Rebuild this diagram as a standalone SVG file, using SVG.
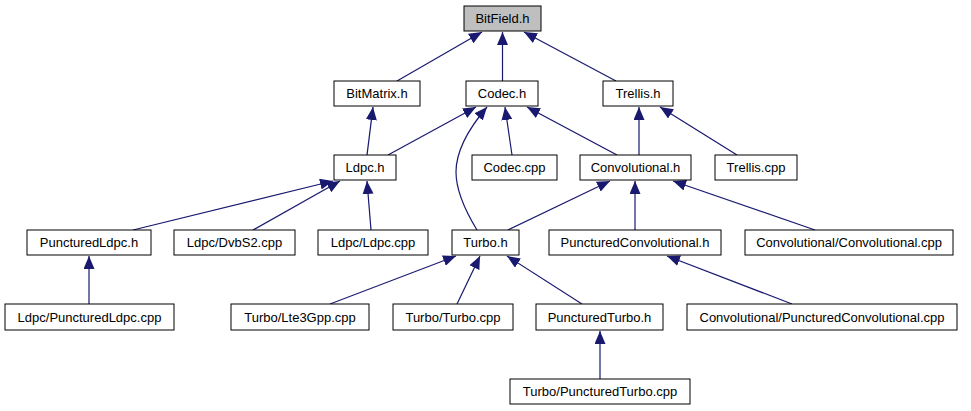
<svg xmlns="http://www.w3.org/2000/svg" width="971" height="411" viewBox="0 0 971 411">
<defs>
<style>
.n rect{fill:#fff;stroke:#000;stroke-width:1}
.n text{font-family:"Liberation Sans",Arial,sans-serif;font-size:13px;text-anchor:middle;fill:#000}
.e path{fill:none;stroke:#191970;stroke-width:1.2;marker-end:url(#ah)}
</style>
<marker id="ah" markerUnits="userSpaceOnUse" markerWidth="13" markerHeight="11" refX="13" refY="5.5" orient="auto" viewBox="0 0 13 11">
<path d="M0,0 L13,5.5 L0,11 z" fill="#191970"/>
</marker>
</defs>
<rect width="971" height="411" fill="#fff"/>
<g class="e">
<path d="M397,81 L482,32"/>
<path d="M502.5,81 L502.5,32"/>
<path d="M616,81 L524,32"/>
<path d="M367,155 L373,107"/>
<path d="M388,155 L476,107"/>
<path d="M477,230 C466,212 456,190 456,172 C456,150 470,127 487,107"/>
<path d="M512,155 L505,107"/>
<path d="M617,155 L527,107"/>
<path d="M639,155 L639,107"/>
<path d="M737,155 L660,107"/>
<path d="M133,230 L333,181"/>
<path d="M253,230 L340,181"/>
<path d="M371,230 L367,181"/>
<path d="M508,230 L610,181"/>
<path d="M635,230 L635,181"/>
<path d="M815,230 L673,181"/>
<path d="M89,304 L89,256"/>
<path d="M330,304 L456,256"/>
<path d="M457,304 L480,256"/>
<path d="M582,304 L507,256"/>
<path d="M792,304 L667,256"/>
<path d="M600,379 L600,331"/>
</g>
<g id="n_bitfield" class="n"><rect x="464" y="6" width="77" height="25" style="fill:#bfbfbf"/><text x="502.5" y="23">BitField.h</text></g>
<g id="n_bitmatrix" class="n"><rect x="334" y="81" width="86" height="25"/><text x="377" y="98">BitMatrix.h</text></g>
<g id="n_codec_h" class="n"><rect x="466" y="81" width="72" height="25"/><text x="502" y="98">Codec.h</text></g>
<g id="n_trellis_h" class="n"><rect x="603" y="81" width="70" height="25"/><text x="638" y="98">Trellis.h</text></g>
<g id="n_ldpc_h" class="n"><rect x="334" y="155" width="62" height="25"/><text x="365" y="172">Ldpc.h</text></g>
<g id="n_codec_cpp" class="n"><rect x="472" y="155" width="85" height="25"/><text x="514.5" y="172">Codec.cpp</text></g>
<g id="n_conv_h" class="n"><rect x="580" y="155" width="111" height="25"/><text x="635.5" y="172">Convolutional.h</text></g>
<g id="n_trellis_cpp" class="n"><rect x="715" y="155" width="82" height="25"/><text x="756" y="172">Trellis.cpp</text></g>
<g id="n_puncldpc_h" class="n"><rect x="27" y="230" width="124" height="25"/><text x="89" y="247">PuncturedLdpc.h</text></g>
<g id="n_dvbs2" class="n"><rect x="174" y="230" width="121" height="25"/><text x="234.5" y="247">Ldpc/DvbS2.cpp</text></g>
<g id="n_ldpc_cpp" class="n"><rect x="318" y="230" width="110" height="25"/><text x="373" y="247">Ldpc/Ldpc.cpp</text></g>
<g id="n_turbo_h" class="n"><rect x="452" y="230" width="67" height="25"/><text x="485.5" y="247">Turbo.h</text></g>
<g id="n_puncconv_h" class="n"><rect x="549" y="230" width="172" height="25"/><text x="635" y="247">PuncturedConvolutional.h</text></g>
<g id="n_conv_cpp" class="n"><rect x="745" y="230" width="208" height="25"/><text x="849" y="247">Convolutional/Convolutional.cpp</text></g>
<g id="n_puncldpc_cpp" class="n"><rect x="5" y="304" width="169" height="26"/><text x="89.5" y="322">Ldpc/PuncturedLdpc.cpp</text></g>
<g id="n_lte3gpp" class="n"><rect x="231" y="304" width="138" height="26"/><text x="300" y="322">Turbo/Lte3Gpp.cpp</text></g>
<g id="n_turbo_cpp" class="n"><rect x="393" y="304" width="120" height="26"/><text x="453" y="322">Turbo/Turbo.cpp</text></g>
<g id="n_puncturbo_h" class="n"><rect x="536" y="304" width="127" height="26"/><text x="599.5" y="322">PuncturedTurbo.h</text></g>
<g id="n_puncconv_cpp" class="n"><rect x="687" y="304" width="270" height="26"/><text x="822" y="322">Convolutional/PuncturedConvolutional.cpp</text></g>
<g id="n_puncturbo_cpp" class="n"><rect x="510" y="379" width="180" height="25"/><text x="600" y="396">Turbo/PuncturedTurbo.cpp</text></g>
</svg>
